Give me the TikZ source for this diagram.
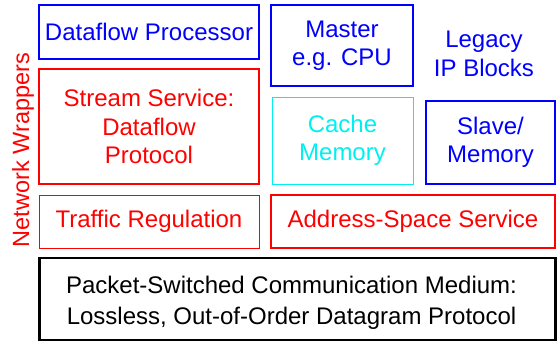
\documentclass[tikz,border=0pt]{standalone}
\usepackage{fontspec}
\setmainfont{Liberation Sans}
\usetikzlibrary{positioning}
\definecolor{cachecyan}{RGB}{0,240,240}

\begin{document}
\begin{tikzpicture}[x=1pt,y=-1pt,
    box/.style={draw,line width=2.6pt,inner sep=0pt,align=center,font=\fontsize{24}{28.5}\selectfont},
    thinbox/.style={box,line width=1pt},
    lbl/.style={inner sep=0pt,align=center,font=\fontsize{24}{28.5}\selectfont}]
    \useasboundingbox (0,0) rectangle (557,345);
    % top row
    \node[box,blue,minimum width=220,minimum height=54] (proc) at (149,32) {Dataflow Processor};
    \node[box,blue,minimum width=142,minimum height=81] (master) at (342,45.5) {Master\\e.g. CPU};
    \node[lbl,blue] (legacy) at (484,54) {Legacy\\IP Blocks};
    % middle row
    \node[box,red,minimum width=220,minimum height=115] (stream) at (149,126.5) {Stream Service:\\Dataflow\\Protocol};
    \node[thinbox,cachecyan,minimum width=141,minimum height=87] (cache) at (342.5,140.5) {Cache\\Memory};
    \node[box,blue,minimum width=129,minimum height=83] (slave) at (490.5,142.5) {Slave/\\Memory};
    % wrappers
    \node[thinbox,red,minimum width=220,minimum height=53] (traffic) at (149,221.5) {Traffic Regulation};
    \node[box,red,minimum width=284,minimum height=53] (addr) at (413,221.5) {Address-Space Service};
    \node[lbl,red,rotate=90,font=\fontsize{23.5}{28}\selectfont] (wrap) at (23,150) {Network Wrappers};
    % network
    \node[box,black,minimum width=516,minimum height=82] (medium) at (297.5,299) {};
    \node[lbl,font=\fontsize{24}{31}\selectfont] (mediumtext) at ([xshift=-6pt,yshift=-4pt]medium.center)
        {Packet-Switched Communication Medium:\\Lossless, Out-of-Order Datagram Protocol};
\end{tikzpicture}
\end{document}
